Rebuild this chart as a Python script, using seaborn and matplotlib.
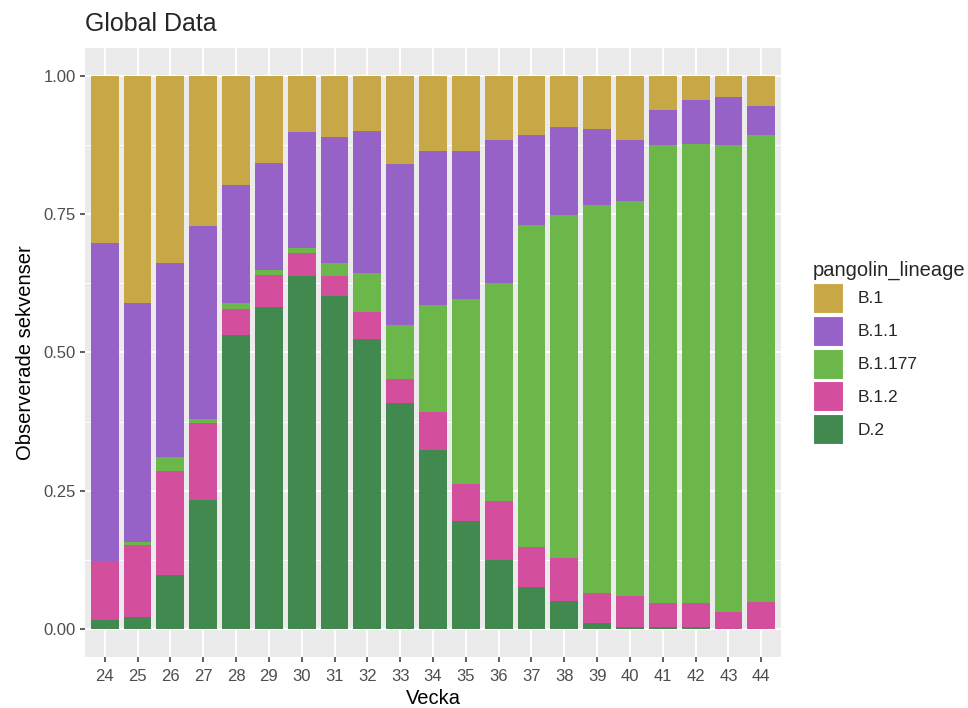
import pandas as pd
import numpy as np
import matplotlib
matplotlib.use("Agg")
import matplotlib.pyplot as plt
import seaborn as sns
from matplotlib.patches import Patch

# weeks and lineage shares
weeks = list(range(24, 45))
lineages = ["B.1", "B.1.1", "B.1.177", "B.1.2", "D.2"]
colors = ["#C8A846", "#9662C8", "#6BB74A", "#D44E9E", "#428950"]

b1 = [0.303, 0.411, 0.339, 0.272, 0.198, 0.157, 0.101, 0.110, 0.100, 0.159, 0.136,
      0.136, 0.116, 0.108, 0.093, 0.097, 0.116, 0.062, 0.044, 0.038, 0.054]
b11 = [0.573, 0.432, 0.349, 0.348, 0.213, 0.194, 0.211, 0.229, 0.257, 0.291, 0.278,
       0.268, 0.259, 0.162, 0.159, 0.137, 0.110, 0.064, 0.079, 0.088, 0.054]
b1177 = [0.000, 0.004, 0.026, 0.007, 0.011, 0.009, 0.009, 0.023, 0.069, 0.097, 0.193,
         0.333, 0.394, 0.581, 0.619, 0.701, 0.714, 0.827, 0.830, 0.843, 0.843]
b12 = [0.108, 0.131, 0.187, 0.139, 0.046, 0.058, 0.041, 0.036, 0.049, 0.045, 0.069,
       0.068, 0.105, 0.072, 0.077, 0.054, 0.055, 0.042, 0.043, 0.031, 0.049]
d2 = [0.016, 0.022, 0.099, 0.234, 0.532, 0.582, 0.638, 0.602, 0.525, 0.408, 0.324,
      0.195, 0.126, 0.077, 0.052, 0.011, 0.005, 0.005, 0.004, 0.000, 0.000]

shares = {"B.1": b1, "B.1.1": b11, "B.1.177": b1177, "B.1.2": b12, "D.2": d2}
rows = []
for lin in lineages:
    for w, v in zip(weeks, shares[lin]):
        rows.append({"Vecka": w, "pangolin_lineage": lin, "share": v})
df = pd.DataFrame(rows)

sns.set_theme(style="darkgrid", rc={
    "axes.facecolor": "#EBEBEB",
    "grid.color": "white",
    "axes.edgecolor": "#EBEBEB",
})
plt.rcParams["font.family"] = ["Liberation Sans", "DejaVu Sans"]

fig = plt.figure(figsize=(9.68, 7.08), dpi=100)
ax = fig.add_axes([85/968, 1 - 657/708, 696/968, 609/708])

# first hue level ends on top of the stack in seaborn
sns.histplot(data=df, x="Vecka", hue="pangolin_lineage", weights="share",
             hue_order=lineages, palette=colors, multiple="stack",
             discrete=True, shrink=0.85, linewidth=0, alpha=1,
             legend=False, ax=ax)

ax.set_xlim(23.4, 44.6)
ax.set_ylim(-0.05, 1.05)
ax.set_xticks(weeks)
ax.set_xticklabels([str(w) for w in weeks])
ax.set_yticks([0, 0.25, 0.5, 0.75, 1.0])
ax.set_yticklabels(["0.00", "0.25", "0.50", "0.75", "1.00"])
ax.set_yticks([0.125, 0.375, 0.625, 0.875], minor=True)
ax.grid(which="major", color="white", linewidth=1.4)
ax.grid(which="minor", axis="y", color="white", linewidth=0.7)
ax.set_axisbelow(True)
for s in ax.spines.values():
    s.set_visible(False)
ax.tick_params(axis="both", which="major", length=3.5, width=1.1, color="#333333",
               labelsize=12, labelcolor="#4D4D4D", pad=3, bottom=True, left=True)
ax.tick_params(axis="x", which="major", pad=5)
ax.tick_params(axis="both", which="minor", length=0)

ax.set_xlabel("Vecka", fontsize=14.5, color="black", labelpad=4)
ax.set_ylabel("Observerade sekvenser", fontsize=14.5, color="black", labelpad=6)
ax.set_title("Global Data", fontsize=18, loc="left", x=0.0, pad=12)

handles = [Patch(facecolor=c, edgecolor="white", linewidth=0.8) for c in colors]
leg = ax.legend(handles, lineages, title="pangolin_lineage", loc="center left",
                bbox_to_anchor=(1.046, 0.5), frameon=False, fontsize=12.5,
                title_fontsize=14.5, handlelength=1.75, handleheight=2.27,
                labelspacing=0.17, handletextpad=0.8, borderaxespad=0, borderpad=0)
leg._legend_box.align = "left"

fig.savefig("out.png", dpi=100)
